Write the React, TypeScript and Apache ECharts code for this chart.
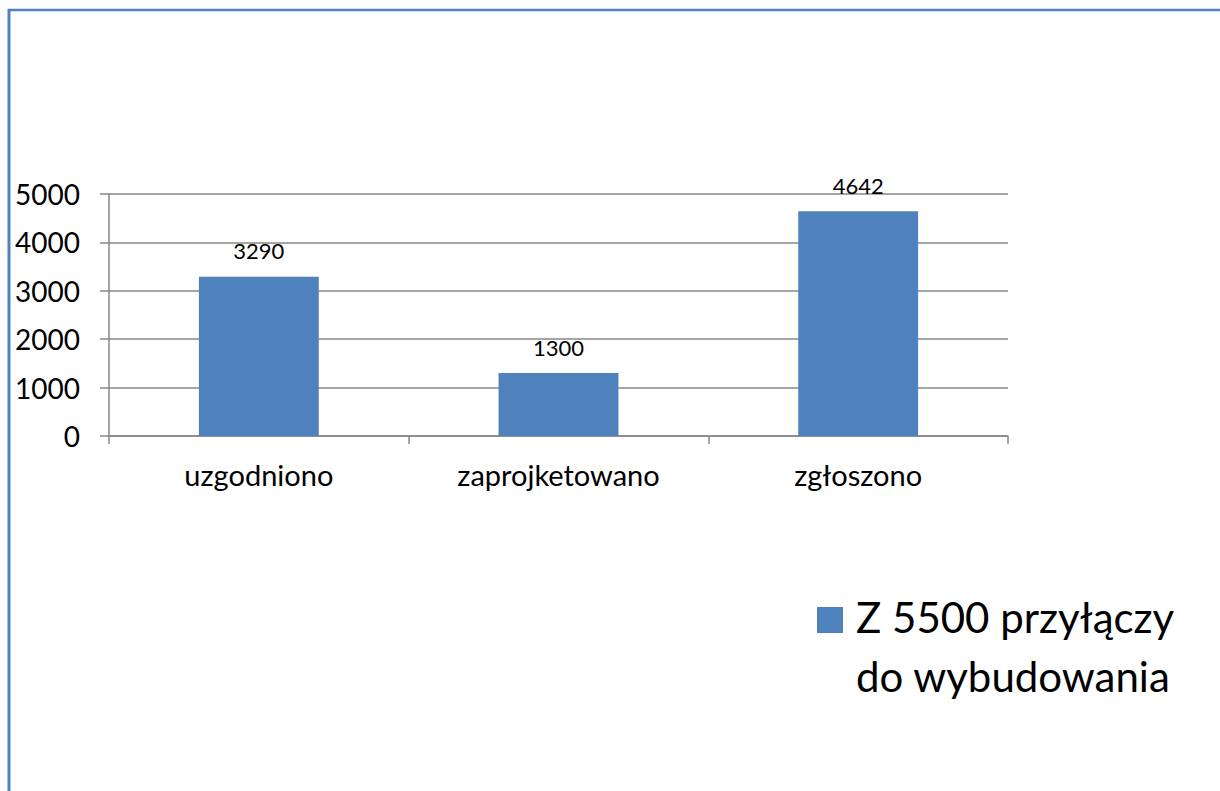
import React, { useEffect, useRef } from "react";
import * as echarts from "echarts";

const categories = ["uzgodniono", "zaprojketowano", "zgłoszono"];
const values = [3290, 1300, 4642];
const seriesName = "Z 5500 przyłączy do wybudowania";
const legendLines = ["Z 5500 przyłączy", "do wybudowania"];
const yTicks = { min: 0, max: 5000, interval: 1000 };

const BLUE = "#4f81bd";
const GRID = "#878787";
const FONT = "Lato, 'Open Sans', sans-serif";

export default function App() {
  const ref = useRef<HTMLDivElement>(null);
  useEffect(() => {
    document.body.style.margin = "0";
    const chart = echarts.init(ref.current!, null, { renderer: "svg" });
    chart.setOption({
      animation: false,
      backgroundColor: "#ffffff",
      grid: { left: 109, right: 212, top: 194, bottom: 355, containLabel: false },
      xAxis: {
        type: "category",
        data: categories,
        boundaryGap: true,
        axisLine: { lineStyle: { color: GRID, width: 1.5 } },
        axisTick: { show: true, length: 8, alignWithLabel: false, lineStyle: { color: GRID, width: 1.5 } },
        axisLabel: { color: "#000", fontSize: 29, fontFamily: FONT, margin: 24 },
      },
      yAxis: {
        type: "value",
        min: yTicks.min,
        max: yTicks.max,
        interval: yTicks.interval,
        axisLine: { show: true, lineStyle: { color: GRID, width: 1.5 } },
        axisTick: { show: true, length: 9, lineStyle: { color: GRID, width: 1.5 } },
        splitLine: { show: true, lineStyle: { color: GRID, width: 1.5 } },
        axisLabel: {
          color: "#000",
          fontSize: 28,
          fontFamily: FONT,
          margin: 29,
          formatter: (v: number) => String(v),
        },
      },
      series: [
        {
          name: seriesName,
          type: "bar",
          data: values,
          barWidth: "40%",
          itemStyle: { color: BLUE },
          label: { show: true, position: "top", distance: 15, color: "#000", fontSize: 22, fontFamily: FONT },
        },
      ],
      graphic: [
        { type: "line", shape: { x1: 8, y1: 10, x2: 1220, y2: 10 }, style: { stroke: BLUE, lineWidth: 2.5 } },
        { type: "line", shape: { x1: 9, y1: 9, x2: 9, y2: 791 }, style: { stroke: BLUE, lineWidth: 3 } },
        { type: "rect", shape: { x: 817, y: 607, width: 26, height: 26 }, style: { fill: BLUE } },
        {
          type: "text",
          x: 856,
          y: 617,
          style: { text: legendLines[0], fontSize: 42, fontFamily: FONT, fill: "#000", verticalAlign: "middle" },
        },
        {
          type: "text",
          x: 856,
          y: 676,
          style: { text: legendLines[1], fontSize: 42, fontFamily: FONT, fill: "#000", verticalAlign: "middle" },
        },
      ],
    });
    return () => chart.dispose();
  }, []);
  return <div ref={ref} style={{ position: "fixed", left: 0, top: 0, width: 1220, height: 791 }} />;
}
